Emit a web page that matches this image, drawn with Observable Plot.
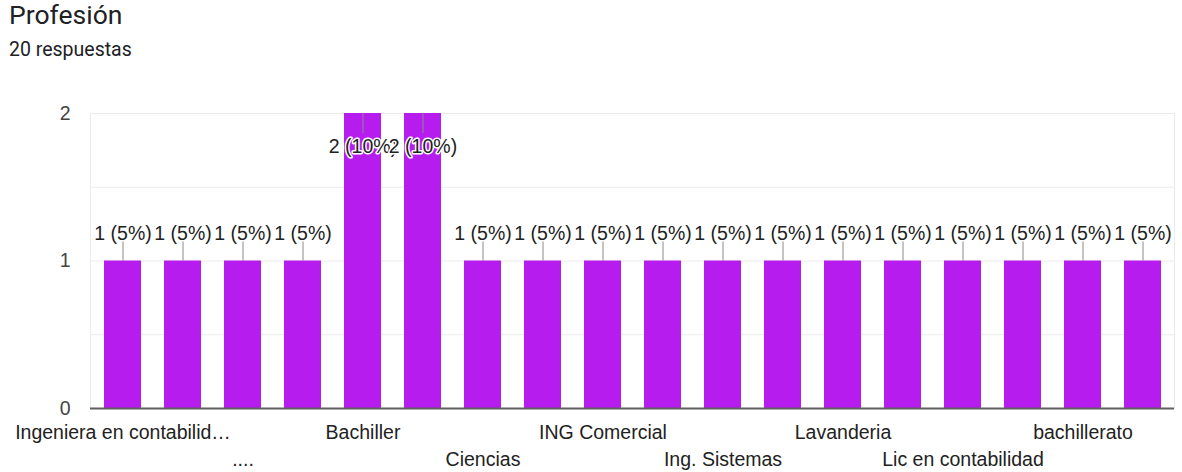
<!DOCTYPE html>
<html>
<head>
<meta charset="utf-8">
<script src="https://cdn.jsdelivr.net/npm/d3@7"></script>
<script src="https://cdn.jsdelivr.net/npm/@observablehq/plot@0.6"></script>
<style>
  body { margin: 0; background: #fff; }
  #wrap { position: relative; width: 1182px; height: 472px; }
  .title { position: absolute; left: 9px; top: 2px; font: 26.5px/1 Roboto, sans-serif; color: #202124; }
  .subtitle { position: absolute; left: 9px; top: 40px; font: 19.5px/1 Roboto, sans-serif; color: #202124; }
</style>
</head>
<body>
<div id="wrap">
  <div id="chart"></div>
  <div class="title">Profesión</div>
  <div class="subtitle">20 respuestas</div>
</div>
<script>
// Respuestas a la pregunta "Profesión"
const categorias = [
  "Ingeniera en contabilidad", "Contador público", "....", "Estudiante",
  "Bachiller", "Ama de casa", "Ciencias", "Comerciante",
  "ING Comercial", "Ing. Agrónomo", "Ing. Sistemas", "Ingeniero Civil",
  "Lavanderia", "Lic en administración", "Lic en contabilidad", "Profesora",
  "bachillerato", "ninguna"
];
const respuestas = [1, 1, 1, 1, 2, 2, 1, 1, 1, 1, 1, 1, 1, 1, 1, 1, 1, 1];
const marcasY = [0, 1, 2];
const guiasY = [0.5, 1, 1.5, 2];

const total = d3.sum(respuestas);
const maximo = d3.max(respuestas);
const datos = categorias.map((nombre, i) => ({
  nombre,
  n: respuestas[i],
  etiqueta: `${respuestas[i]} (${Math.round(respuestas[i] / total * 100)}%)`,
  dentro: respuestas[i] === maximo
}));
const fuera = datos.filter(d => !d.dentro);
const dentro = datos.filter(d => d.dentro);

// Etiquetas del eje X repartidas en dos filas alternas
const fila1 = categorias.filter((d, i) => i % 4 === 0);
const fila2 = categorias.filter((d, i) => i % 4 === 2);
const recorta = d => d.length > 24 ? d.slice(0, 23) + "…" : d;

const morado = "#b51ced";
const halo = {stroke: "white", strokeWidth: 3, fill: "#222", fontSize: 19.5};

const chart = Plot.plot({
  width: 1182,
  height: 472,
  marginTop: 113,
  marginBottom: 64,
  marginLeft: 90,
  marginRight: 8,
  style: {fontFamily: "'Liberation Sans', Arial, sans-serif", fontSize: "19.5px", color: "#222", background: "transparent", overflow: "visible"},
  x: {domain: categorias, paddingInner: 0.385, paddingOuter: 0.1925, label: null},
  y: {domain: [0, maximo], label: null},
  marks: [
    Plot.frame({stroke: "#ebebeb"}),
    Plot.gridY(guiasY, {stroke: "#ebebeb", strokeOpacity: 1}),
    Plot.barY(datos, {x: "nombre", y: "n", fill: morado}),
    Plot.ruleY([0], {stroke: "#5f5f5f", strokeWidth: 2}),
    // líneas guía entre la barra y su etiqueta
    Plot.ruleX(fuera, {x: "nombre", y1: "n", y2: "n", stroke: "#8a8a8a", insetTop: -20}),
    Plot.ruleX(dentro, {x: "nombre", y1: "n", y2: "n", stroke: "#8a8a8a", insetBottom: -20}),
    Plot.text(fuera, {x: "nombre", y: "n", text: "etiqueta", dy: -27, ...halo}),
    Plot.text(dentro, {x: "nombre", y: "n", text: "etiqueta", dy: 33, ...halo}),
    Plot.axisY(marcasY, {tickSize: 0, tickPadding: 20, fontSize: 19.5, fill: "#444", label: null, tickFormat: d => d}),
    Plot.axisX(fila1, {tickSize: 0, tickPadding: 17, fontSize: 19.5, fill: "#222", label: null, tickFormat: recorta}),
    Plot.axisX(fila2, {tickSize: 0, tickPadding: 44, fontSize: 19.5, fill: "#222", label: null, tickFormat: recorta})
  ]
});
document.getElementById("chart").append(chart);
</script>
</body>
</html>
